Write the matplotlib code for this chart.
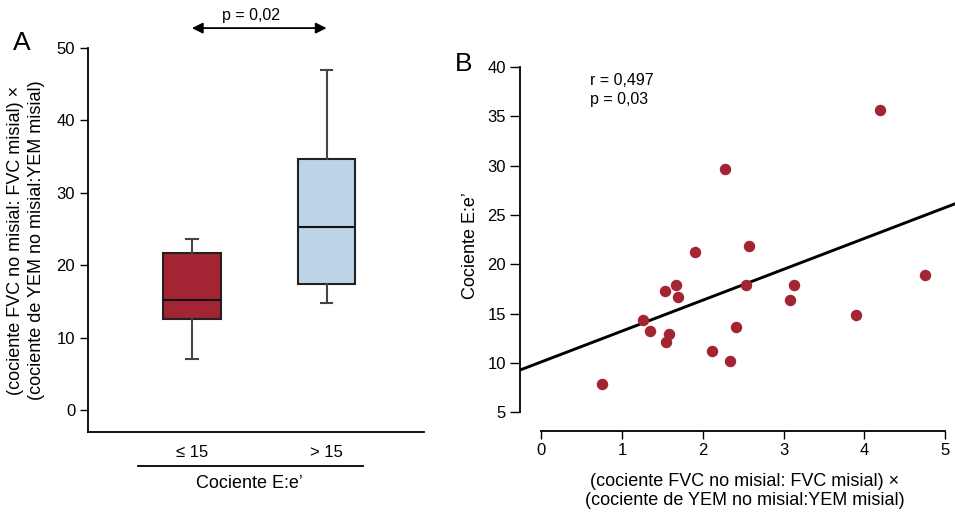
import matplotlib.pyplot as plt
from matplotlib.lines import Line2D

plt.rcParams['font.family'] = ['Liberation Sans', 'DejaVu Sans']

RED = '#a32432'
BLUE = '#bdd4e7'

# panel A: box summaries per E:e' group
groups = ['\u2264 15', '> 15']
whisker_low = [7.0, 14.8]
q1 = [12.5, 17.4]
median = [15.2, 25.2]
q3 = [21.7, 34.7]
whisker_high = [23.6, 46.9]
p_groups = 'p = 0,02'

# panel B: scatter + fitted line
product_ratio = [0.75, 1.26, 1.35, 1.53, 1.54, 1.58, 1.67, 1.70, 1.90, 2.11,
                 2.27, 2.34, 2.41, 2.54, 2.57, 3.08, 3.13, 3.89, 4.19, 4.75]
ee_ratio = [7.9, 14.4, 13.2, 17.3, 12.1, 12.9, 17.9, 16.7, 21.2, 11.2,
            29.7, 10.2, 13.6, 17.9, 21.9, 16.4, 17.9, 14.9, 35.6, 18.9]
fit_intercept = 10.1
fit_slope = 3.13
r_text = 'r = 0,497'
p_text = 'p = 0,03'

ratio_label = '(cociente FVC no misial: FVC misial) \u00d7\n(cociente de YEM no misial:YEM misial)'

fig = plt.figure(figsize=(9.55, 5.13), dpi=100)

# ------------------------------
# Panel A: boxplot
# ------------------------------
axA = fig.add_axes([0.0918, 0.1573, 0.352, 0.755])
stats = []
for i in range(len(groups)):
    stats.append({'whislo': whisker_low[i], 'q1': q1[i], 'med': median[i],
                  'q3': q3[i], 'whishi': whisker_high[i], 'label': groups[i]})
bp = axA.bxp(stats, positions=[1, 2], widths=0.425, showfliers=False,
             patch_artist=True,
             boxprops=dict(edgecolor='#222222', linewidth=1.5),
             medianprops=dict(color='#111111', linewidth=1.5),
             whiskerprops=dict(color='#444444', linewidth=1.5),
             capprops=dict(color='#444444', linewidth=1.5),
             capwidths=0.085)
for patch, c in zip(bp['boxes'], [RED, BLUE]):
    patch.set_facecolor(c)

axA.set_xlim(0.226, 2.722)
axA.set_ylim(-3.08, 50.37)
axA.set_yticks([0, 10, 20, 30, 40, 50])
axA.spines['top'].set_visible(False)
axA.spines['right'].set_visible(False)
axA.spines['left'].set_bounds(-3.08, 50)
for s in ['left', 'bottom']:
    axA.spines[s].set_linewidth(1.3)
axA.tick_params(axis='y', length=6, width=1, labelsize=12, pad=3)
axA.tick_params(axis='x', length=0, labelsize=12, pad=9)

axA.annotate('', xy=(1.0, 52.7), xytext=(2.0, 52.7), xycoords='data',
             annotation_clip=False,
             arrowprops=dict(arrowstyle='<|-|>', color='black', lw=1.3,
                             mutation_scale=16, shrinkA=0, shrinkB=0))
axA.text(1.44, 54.4, p_groups, ha='center', va='center', fontsize=11.5,
         clip_on=False)

fig.add_artist(Line2D([137.7 / 955, 363.3 / 955], [1 - 466 / 513, 1 - 466 / 513],
                      color='black', lw=1.3))
fig.text(249 / 955, 1 - 483 / 513, 'Cociente E:e\u2019', ha='center', va='center',
         fontsize=13)
fig.text(26 / 955, 1 - 240 / 513, ratio_label, rotation=90, ha='center',
         va='center', multialignment='center', fontsize=13, linespacing=1.3)
fig.text(22 / 955, 1 - 43 / 513, 'A', ha='center', va='center', fontsize=19)

# ------------------------------
# Panel B: scatter with regression
# ------------------------------
axB = fig.add_axes([0.5445, 0.1608, 0.4555, 0.722])
axB.scatter(product_ratio, ee_ratio, s=68, color=RED, zorder=3, linewidths=0)
axB.axline((0, fit_intercept), slope=fit_slope, color='black', lw=2.1)
axB.set_xlim(-0.26, 5.12)
axB.set_ylim(3.16, 40.68)
axB.set_xticks([0, 1, 2, 3, 4, 5])
axB.set_yticks([5, 10, 15, 20, 25, 30, 35, 40])
axB.spines['top'].set_visible(False)
axB.spines['right'].set_visible(False)
axB.spines['left'].set_bounds(5, 40)
axB.spines['bottom'].set_bounds(0, 5)
for s in ['left', 'bottom']:
    axB.spines[s].set_linewidth(1.3)
axB.tick_params(axis='y', length=7, width=1, labelsize=12, pad=3)
axB.tick_params(axis='x', length=6, width=1, labelsize=12, pad=3)
axB.text(0.6, 38.65, r_text, ha='left', va='center', fontsize=11.5)
axB.text(0.6, 36.7, p_text, ha='left', va='center', fontsize=11.5)
axB.set_ylabel('Cociente E:e\u2019', fontsize=13, labelpad=6)

fig.text(745 / 955, 1 - 491 / 513, ratio_label, ha='center', va='center',
         multialignment='center', fontsize=13, linespacing=1.2)
fig.text(463.5 / 955, 1 - 64 / 513, 'B', ha='center', va='center', fontsize=19)

fig.savefig('out.png', dpi=100)
